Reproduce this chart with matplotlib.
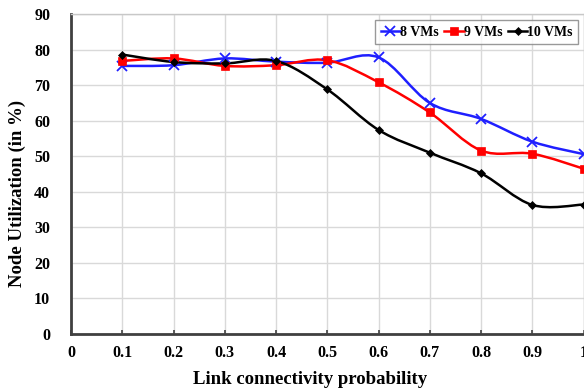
import numpy as np
import matplotlib
matplotlib.use("Agg")
import matplotlib.pyplot as plt
from matplotlib.path import Path
from matplotlib.patches import PathPatch
from matplotlib.lines import Line2D

plt.rcParams['font.family'] = ['Liberation Serif', 'DejaVu Serif']
plt.rcParams['font.weight'] = 'bold'

prob = [0.1, 0.2, 0.3, 0.4, 0.5, 0.6, 0.7, 0.8, 0.9, 1.0]
vm8 = [75.4, 75.6, 77.5, 76.6, 76.3, 77.8, 65.0, 60.5, 54.1, 50.6]
vm9 = [76.8, 77.5, 75.4, 75.6, 77.0, 70.8, 62.3, 51.6, 50.7, 46.5]
vm10 = [78.6, 76.5, 76.1, 76.8, 68.8, 57.4, 51.0, 45.2, 36.3, 36.4]

series = [
    ("8 VMs", vm8, "#1f1fff", "x", 7, 1.3),
    ("9 VMs", vm9, "#ff0000", "s", 6, 0.5),
    ("10 VMs", vm10, "#000000", "D", 4.5, 0.5),
]


def smooth_path(xs, ys, tension=0.5):
    # Excel-style smoothed line: cubic bezier between consecutive points
    pts = np.column_stack([xs, ys]).astype(float)
    n = len(pts)
    verts = [pts[0]]
    codes = [Path.MOVETO]
    for i in range(n - 1):
        p0 = pts[i - 1] if i > 0 else pts[i]
        p1 = pts[i]
        p2 = pts[i + 1]
        p3 = pts[i + 2] if i + 2 < n else pts[i + 1]
        c1 = p1 + (p2 - p0) * tension / 3.0
        c2 = p2 - (p3 - p1) * tension / 3.0
        verts += [c1, c2, p2]
        codes += [Path.CURVE4] * 3
    return Path(verts, codes)


fig = plt.figure(figsize=(5.84, 3.88), dpi=100)
ax = fig.add_axes([71 / 584, 1 - 334 / 388, 512.5 / 584, 320 / 388])

for label, vals, color, mk, ms, mew in series:
    ax.add_patch(PathPatch(smooth_path(prob, vals), facecolor="none",
                           edgecolor=color, lw=1.8, zorder=3))
    ax.plot(prob, vals, linestyle="none", marker=mk, ms=ms, color=color,
            mew=mew if mk == "x" else 0.5, zorder=4)

ax.set_xlim(0, 1.0)
ax.set_ylim(0, 90)
ax.set_xticks(np.arange(0, 1.01, 0.1))
ax.set_xticklabels(["0", "0.1", "0.2", "0.3", "0.4", "0.5", "0.6", "0.7", "0.8", "0.9", "1"])
ax.set_yticks(range(0, 91, 10))
ax.grid(True, color="#d9d9d9", lw=1.0, zorder=0)
ax.set_axisbelow(True)

ax.tick_params(axis="x", direction="in", length=3, width=1.2, color="#404040",
               labelsize=11.5, pad=8)
ax.tick_params(axis="y", length=0, labelsize=11.5, pad=15)
for lbl in ax.get_xticklabels() + ax.get_yticklabels():
    lbl.set_fontweight("bold")

for side in ("left", "bottom"):
    ax.spines[side].set_color("#404040")
    ax.spines[side].set_linewidth(2)
for side in ("top", "right"):
    ax.spines[side].set_color("#c8c8c8")
    ax.spines[side].set_linewidth(1)

ax.set_xlabel("Link connectivity probability", fontsize=13.5, fontweight="bold")
ax.xaxis.set_label_coords(0.467, -0.115)
ax.set_ylabel("Node Utilization (in %)", fontsize=13.5, fontweight="bold")
ax.yaxis.set_label_coords(-0.088, 0.44)

handles = [Line2D([0], [0], color=c, lw=1.8, marker=m, ms=s,
                  mew=(w if m == "x" else 0.5))
           for _, _, c, m, s, w in series]
leg = ax.legend(handles, [s[0] for s in series], loc="upper right",
                ncol=3, frameon=True, fancybox=False, edgecolor="#808080",
                handlelength=1.4, handletextpad=0.0, columnspacing=0.4,
                borderpad=0.4, borderaxespad=0, prop={"weight": "bold", "size": 10},
                bbox_to_anchor=(0.99, 0.981))
leg.get_frame().set_linewidth(1.0)

fig.savefig("out.png", dpi=100)
